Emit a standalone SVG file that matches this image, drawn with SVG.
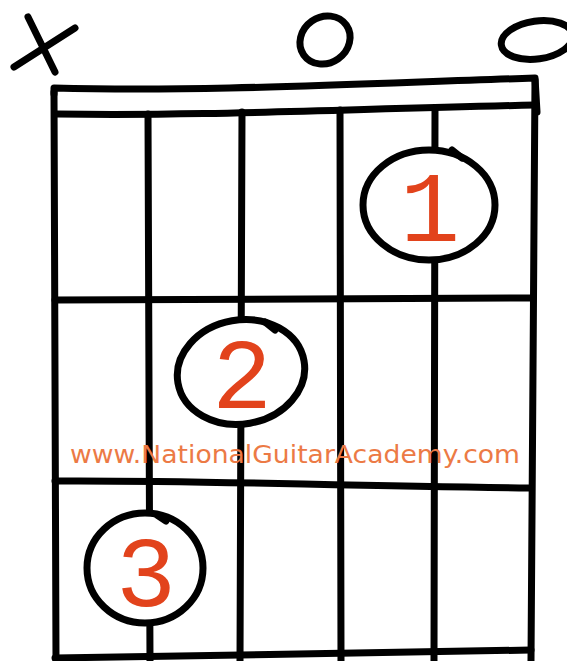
<svg xmlns="http://www.w3.org/2000/svg" width="567" height="661" viewBox="0 0 567 661">
<style>
.ln{fill:none;stroke:#000;stroke-width:7;stroke-linecap:round;stroke-linejoin:round}
.dot{fill:#fff;stroke:#000;stroke-width:7;stroke-linecap:round}
.num{font-family:"Liberation Mono",monospace;font-size:100px;fill:#e2431c;text-anchor:middle}
.wm{font-family:"DejaVu Sans","Liberation Sans",sans-serif;font-size:25px;fill:#ec7a45}
</style>
<rect width="567" height="661" fill="#fff"/>
<g id="markers">
<path class="ln" d="M14,67 L75,28 M28,17 L55,72"/>
<ellipse class="ln" cx="325" cy="40" rx="26" ry="23" transform="rotate(-35 325 40)"/>
<ellipse class="ln" cx="537" cy="40" rx="36" ry="19" transform="rotate(-8 537 40)"/>
</g>
<g id="grid">
<path class="ln" d="M54,94 L54,88 C200,92 350,84 535,78 L537,112"/>
<path class="ln" d="M57,114 C200,116 320,110 535,105"/>
<path class="ln" d="M54,92 L56,661"/>
<path class="ln" d="M535,80 L531,661"/>
<path class="ln" d="M148,114 L150,661"/>
<path class="ln" d="M242,112 L240,661"/>
<path class="ln" d="M340,110 L341,661"/>
<path class="ln" d="M435,108 L434,661"/>
<path class="ln" d="M55,300 C200,298 360,300 532,298"/>
<path class="ln" d="M55,481 C200,480 330,486 530,488"/>
<path class="ln" d="M55,658 C200,656 400,652 531,650"/>
</g>
<g id="finger1">
<ellipse class="dot" cx="429" cy="205" rx="66" ry="55"/>
<path class="ln" d="M452,150 L462,158" />
<text class="num" x="430" y="241">1</text>
</g>
<g id="finger2">
<ellipse class="dot" cx="241" cy="372" rx="64" ry="52" transform="rotate(-10 241 372)"/>
<path class="ln" d="M265,322 L275,330"/>
<text class="num" x="242" y="408">2</text>
</g>
<g id="finger3">
<ellipse class="dot" cx="145" cy="568" rx="58" ry="55"/>
<path class="ln" d="M157,515 L166,521"/>
<text class="num" x="146" y="606">3</text>
</g>
<text class="wm" x="70" y="463" textLength="450" lengthAdjust="spacingAndGlyphs">www.NationalGuitarAcademy.com</text>
</svg>
